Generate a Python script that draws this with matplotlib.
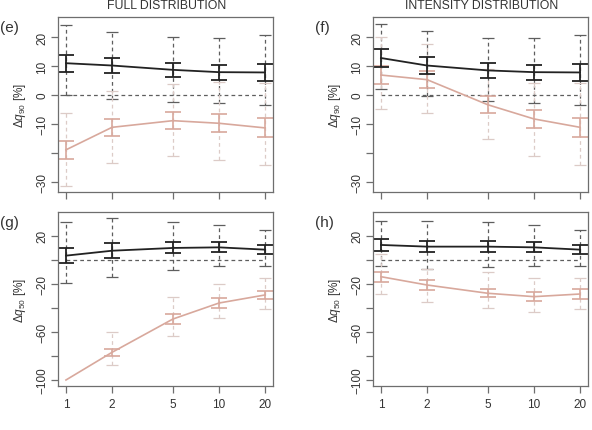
import numpy as np
import matplotlib.pyplot as plt

plt.rcParams['font.family'] = ['Liberation Sans', 'DejaVu Sans']
plt.rcParams['mathtext.fontset'] = 'custom'
plt.rcParams['mathtext.rm'] = 'Liberation Sans'
plt.rcParams['mathtext.it'] = 'Liberation Sans:italic'

# x values (log axis)
x = [1, 2, 5, 10, 20]

# ---- panel (e): full distribution, q90 ----
e_blk = [11.0, 10.2, 8.7, 7.9, 7.8]
e_blk_err = [3.0, 2.7, 2.5, 2.6, 2.9]
e_blk_lo = [0.0, -1.4, -2.5, -2.9, -3.3]
e_blk_hi = [24.3, 21.7, 20.0, 19.8, 20.9]
e_pnk = [-19.0, -11.2, -8.9, -9.8, -11.4]
e_pnk_err = [3.2, 3.0, 3.0, 3.1, 3.3]
e_pnk_lo = [-31.6, -23.5, -21.0, -22.4, -24.1]
e_pnk_hi = [-6.1, 1.5, 3.8, 4.4, 4.2]

# ---- panel (f): intensity distribution, q90 ----
f_blk = [12.8, 10.2, 8.5, 7.9, 7.8]
f_blk_err = [3.0, 2.9, 2.5, 2.6, 2.9]
f_blk_lo = [2.1, -0.2, -2.0, -2.9, -3.3]
f_blk_hi = [24.6, 22.0, 19.8, 19.8, 20.9]
f_pnk = [6.9, 5.3, -3.4, -8.3, -11.2]
f_pnk_err = [3.0, 2.9, 2.9, 3.1, 3.3]
f_pnk_lo = [-4.8, -6.2, -15.2, -21.0, -24.1]
f_pnk_hi = [20.0, 17.7, 9.0, 4.0, 4.0]

# ---- panel (g): full distribution, q50 ----
g_blk = [3.4, 7.5, 9.8, 10.3, 8.4]
g_blk_err = [6.0, 6.2, 4.6, 4.2, 3.7]
g_blk_lo = [-19.3, -14.6, -8.5, -5.5, -5.0]
g_blk_hi = [31.1, 34.5, 31.1, 29.1, 25.0]
g_pnk = [-100.0, -77.0, -49.3, -36.0, -29.3]
g_pnk_err = [0.0, 3.0, 4.0, 3.9, 3.7]
g_pnk_lo = [-100.0, -87.5, -63.2, -48.4, -41.0]
g_pnk_hi = [-100.0, -60.3, -31.2, -20.2, -15.4]

# ---- panel (h): intensity distribution, q50 ----
h_blk = [12.3, 10.9, 10.9, 10.3, 8.4]
h_blk_err = [4.9, 4.8, 4.5, 4.2, 3.7]
h_blk_lo = [-5.0, -7.7, -6.3, -5.5, -5.0]
h_blk_hi = [32.0, 32.5, 31.1, 29.1, 25.0]
h_pnk = [-14.1, -21.0, -27.9, -30.7, -28.5]
h_pnk_err = [4.0, 4.0, 3.4, 3.5, 3.8]
h_pnk_lo = [-28.5, -34.9, -40.1, -43.7, -41.0]
h_pnk_hi = [4.8, -7.7, -10.4, -15.4, -15.4]

BLK = '#222222'
PNK = '#d8a89c'
BLK_D = '#5e5e5e'
PNK_D = '#dccbc7'
BOX = '#6e6e6e'
TXT = '#333333'


def range_bars(ax, xs, lo, hi, color):
    xs = np.array(xs, dtype=float)
    lo = np.array(lo)
    hi = np.array(hi)
    keep = hi > lo
    mid = (lo + hi) / 2
    eb = ax.errorbar(xs[keep], mid[keep],
                     yerr=[(mid - lo)[keep], (hi - mid)[keep]], fmt='none',
                     ecolor=color, elinewidth=0.9, capsize=4, capthick=0.9)
    eb[2][0].set_linestyle((0, (3, 2.5)))


def mean_bars(ax, xs, y, err, color, lw):
    xs = np.array(xs, dtype=float)
    y = np.array(y)
    err = np.array(err)
    keep = err > 0
    ax.plot(xs, y, color=color, lw=lw)
    ax.errorbar(xs[keep], y[keep], yerr=err[keep], fmt='none', ecolor=color,
                elinewidth=lw, capsize=5.8, capthick=lw)


fig = plt.figure(figsize=(5.92, 4.31), dpi=100)
W, H = 592, 431
boxes = {
    'e': (58, 18, 273, 193),
    'f': (373, 18, 588, 193),
    'g': (58, 213, 273, 387),
    'h': (373, 213, 588, 387),
}

panels = [
    ('e', e_blk, e_blk_err, e_blk_lo, e_blk_hi, e_pnk, e_pnk_err, e_pnk_lo, e_pnk_hi),
    ('f', f_blk, f_blk_err, f_blk_lo, f_blk_hi, f_pnk, f_pnk_err, f_pnk_lo, f_pnk_hi),
    ('g', g_blk, g_blk_err, g_blk_lo, g_blk_hi, g_pnk, g_pnk_err, g_pnk_lo, g_pnk_hi),
    ('h', h_blk, h_blk_err, h_blk_lo, h_blk_hi, h_pnk, h_pnk_err, h_pnk_lo, h_pnk_hi),
]

for (name, bm, be, blo, bhi, pm, pe, plo, phi) in panels:
    x0, y0, x1, y1 = boxes[name]
    ax = fig.add_axes([x0 / W, 1 - y1 / H, (x1 - x0) / W, (y1 - y0) / H])
    ax.set_xscale('log')
    ax.set_xlim(0.887, 22.55)
    top = name in ('e', 'f')

    ax.plot([x[0], x[-1]], [0, 0], color=BLK_D, lw=0.9, ls=(0, (3, 2.5)))
    range_bars(ax, x, blo, bhi, BLK_D)
    range_bars(ax, x, plo, phi, PNK_D)
    mean_bars(ax, x, pm, pe, PNK, 1.2)
    mean_bars(ax, x, bm, be, BLK, 1.3)

    if top:
        ax.set_ylim(-33.6, 27.0)
        ax.set_yticks([-30, -20, -10, 0, 10, 20])
        ax.set_yticklabels(['\u221230', '', '\u221210', '0', '10', '20'])
        ylab = r'$\Delta q_{90}$ [%]'
    else:
        ax.set_ylim(-105.0, 39.7)
        ax.set_yticks([-100, -80, -60, -40, -20, 0, 20])
        ax.set_yticklabels(['\u2212100', '', '\u221260', '', '\u221220', '', '20'])
        ylab = r'$\Delta q_{50}$ [%]'

    ax.set_xticks(x)
    ax.minorticks_off()
    if top:
        ax.set_xticklabels([])
    else:
        ax.set_xticklabels([str(v) for v in x])

    ax.tick_params(axis='both', direction='out', length=5, width=0.9,
                   colors=BOX, labelcolor=TXT, labelsize=8.5)
    ax.tick_params(axis='y', labelrotation=90, pad=2)
    for lab in ax.get_yticklabels():
        lab.set_va('center')
    for s in ax.spines.values():
        s.set_color(BOX)
        s.set_linewidth(0.9)

    ax.set_ylabel(ylab, fontsize=8.5, color=TXT, labelpad=6)

    fig.text((x0 - 58) / W + 0.0, 1 - (y0 + 10) / H, '(' + name + ')',
             fontsize=11, color=TXT, ha='left', va='center')

fig.text(167 / W, 1 - 6 / H, 'FULL DISTRIBUTION', fontsize=8.8, color=TXT,
         ha='center', va='center')
fig.text(482 / W, 1 - 6 / H, 'INTENSITY DISTRIBUTION', fontsize=8.8, color=TXT,
         ha='center', va='center')

fig.savefig('out.png', dpi=100)
